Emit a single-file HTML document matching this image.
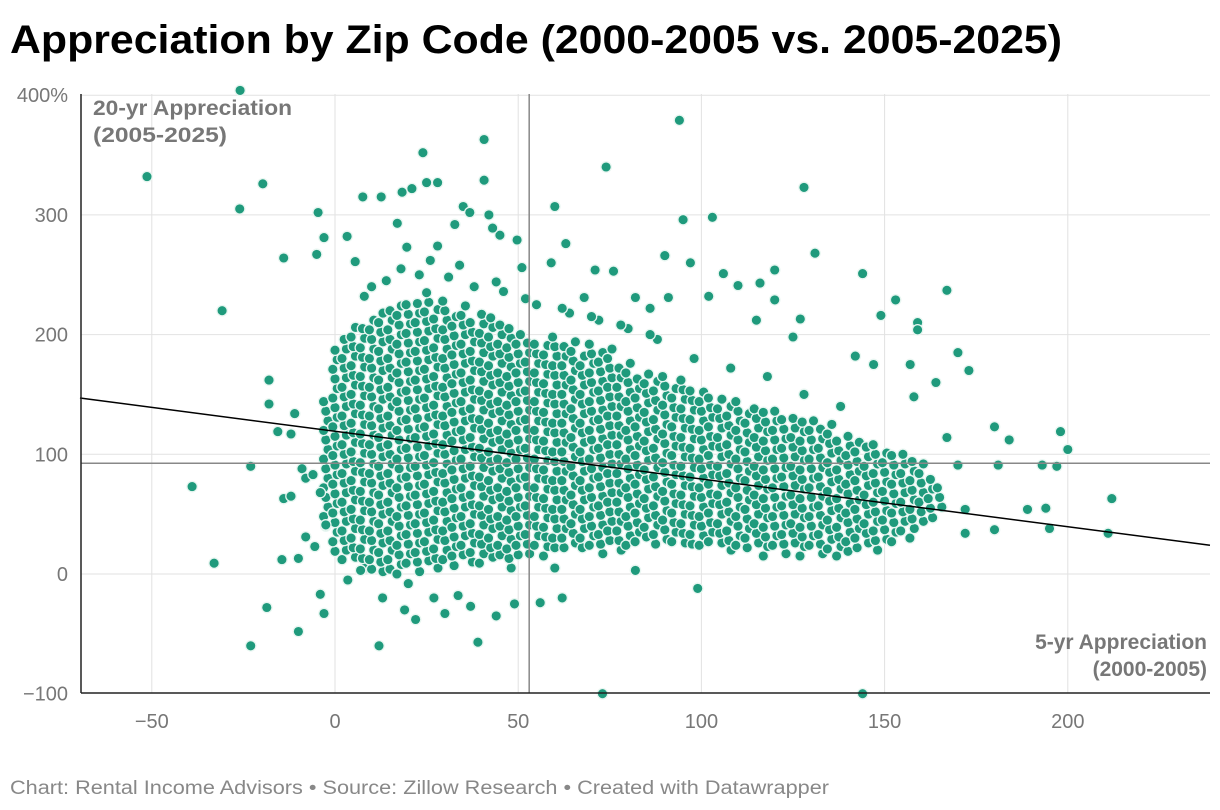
<!DOCTYPE html>
<html><head><meta charset="utf-8">
<style>
html,body{margin:0;padding:0;background:#fff;}
body{width:1220px;height:810px;overflow:hidden;font-family:"Liberation Sans",sans-serif;}
</style></head>
<body>
<svg id="chart" width="1220" height="810" xmlns="http://www.w3.org/2000/svg" style="position:absolute;left:0;top:0">
<text x="10" y="53" font-size="40" font-weight="bold" fill="#000" textLength="1052" lengthAdjust="spacingAndGlyphs" font-family="Liberation Sans, sans-serif">Appreciation by Zip Code (2000-2005 vs. 2005-2025)</text>
<g id="grid"></g>
<g id="pts"></g>
<g id="overlay"></g>
<text x="10" y="794" font-size="19" fill="#888" textLength="819" lengthAdjust="spacingAndGlyphs">Chart: Rental Income Advisors • Source: Zillow Research • Created with Datawrapper</text>
</svg>
<script>
const xTicks=[-50,0,50,100,150,200];
const yTicks=[400,300,200,100,0,-100];
const yTickLabels=["400%","300","200","100","0","−100"];
const xTickLabels=["−50","0","50","100","150","200"];
const refX=53, refY=92.5;
const trendStart=[-69.6,147], trendEnd=[238.8,24];
// dense core columns: [x, yLow, yHigh] observed extents of the dense cluster
const coreColumns=[[-2.5,40,150],[0,15,190],[2.5,10,200],[5,8,210],[7.5,5,210],[10,0,215],[12.5,0,225],[15,-2,220],[17.5,0,230],[20,5,228],[22.5,0,232],[25,5,235],[27.5,5,225],[30,8,232],[32.5,5,222],[35,10,228],[37.5,10,215],[40,5,222],[42.5,12,215],[45,10,212],[47.5,5,205],[50,12,205],[52.5,15,200],[55,18,198],[57.5,15,195],[60,18,200],[62.5,20,192],[65,20,195],[67.5,22,188],[70,20,192],[72.5,15,185],[75,22,188],[77.5,20,178],[80,20,180],[82.5,25,170],[85,25,172],[87.5,25,162],[90,25,168],[92.5,25,160],[95,20,162],[97.5,25,155],[100,20,155],[102.5,25,150],[105,20,150],[107.5,20,145],[110,20,148],[112.5,20,140],[115,20,145],[117.5,15,137],[120,20,138],[122.5,15,132],[125,20,135],[127.5,15,128],[130,20,128],[132.5,15,122],[135,15,125],[137.5,15,118],[140,15,118],[142.5,20,112],[145,20,112],[147.5,20,108],[150,25,108],[152.5,25,102],[155,30,100],[157.5,30,98],[160,40,92],[162.5,45,85],[165,50,78]];
const outlierX=[-25.9,-51.3,-19.7,-26,-4.6,-30.8,40.7,40.7,24,94,74,128,60,95,103,63,131,144,167,153,90,97,149,159,159,170,173,142,147,157,164,158,167,184,180,198,200,193,197,212,211,194,189,195,172,172,181,180,170,-39,-33,-23,-18,-18,-14,-5,-15.6,-12,-18.6,-10,-23,-3,-4,-14.5,-10,-8,-11,-14,-12,-9,-8,-6,-4,-5.5,-2.5,-3,73,144,99,12,13,39,49,56,62,22,30,37,44,19,27,33.6,20,82,60,3.5,7,7.6,12.6,17,18.3,21,25,28,35,42,49.7,45,59,51,68,71,76,82,86,91,102,106,110,120,116,120,127,125,115,3.3,5.5,19.6,28,32.7,36.8,43,8,14,23,31,38,46,55,64,72,80,88,10,18,26,34,44,52,62,70,78,86,98,108,118,128,138];
const outlierY=[404,332,326,305,302,220,363,329,352,379,340,323,307,296,298,276,268,251,237,229,266,260,216,210,204,185,170,182,175,175,160,148,114,112,123,119,104,91,90,63,34,55,54,38,34,54,91,37,91,73,9,90,162,142,264,267,119,117,-28,-48,-60,-33,-17,12,13,31,134,63,65,88,80,83,68,23,41,281,-100,-100,-12,-60,-20,-57,-25,-24,-20,-38,-33,-27,-35,-30,-20,-18,-8,3,5,-5,3,315,315,293,319,322,327,327,307,300,279,283,260,256,231,254,253,231,222,231,232,251,241,254,243,229,213,198,212,282,261,273,274,292,302,289,232,245,250,248,240,236,225,218,212,205,196,240,255,262,258,244,230,222,215,208,200,180,172,165,150,140];

const X0=335, XS=3.664, Y0=574, YS=1.197;
const sx=v=>X0+v*XS, sy=v=>Y0-v*YS;
const L=81, R=1210, T=94, B=693;
const NS="http://www.w3.org/2000/svg";
function mk(tag,attrs,parent,txt){const e=document.createElementNS(NS,tag);for(const k in attrs)e.setAttribute(k,attrs[k]);if(txt!==undefined)e.textContent=txt;parent.appendChild(e);return e;}
const grid=document.getElementById('grid'), pts=document.getElementById('pts'), ov=document.getElementById('overlay');
xTicks.forEach((t,i)=>{
  const l=mk('line',{x1:sx(t),x2:sx(t),y1:T,y2:B,stroke:'#e2e2e2','stroke-width':1},grid);
  
  
  const tx=mk('text',{x:sx(t),y:728,'font-size':20,fill:'#777','text-anchor':'middle'},grid,xTickLabels[i]);
  
  
});
yTicks.forEach((t,i)=>{
  if(t!==-100){const l=mk('line',{x1:L,x2:R,y1:sy(t),y2:sy(t),stroke:'#e2e2e2','stroke-width':1},grid);
  
  }
  const tx=mk('text',{x:68,y:sy(t)+7,'font-size':20,fill:'#777','text-anchor':'end'},grid,yTickLabels[i]);
  
  
});
function dot(x,y,name){
  const c=mk('circle',{cx:sx(x).toFixed(1),cy:sy(y).toFixed(1),r:5.2,fill:'#1f9a7c',stroke:'#e8f6f1','stroke-width':1.3},pts);
  
  
}
coreColumns.forEach((col,i)=>{
  const off=[0,4,2,6][i%4];
  for(let y=col[1]+off;y<=col[2];y+=8){dot(col[0]+((Math.round(y)%3)-1)*0.6,y,'zip-point');}
});
outlierX.forEach((x,i)=>dot(x,outlierY[i],'zip-point'));
let e;
e=mk('line',{x1:sx(refX),x2:sx(refX),y1:T,y2:B,stroke:'#888','stroke-width':1.5},ov);


e=mk('line',{x1:L,x2:R,y1:sy(refY),y2:sy(refY),stroke:'#888','stroke-width':1.5},ov);


e=mk('line',{x1:sx(trendStart[0]),y1:sy(trendStart[1]),x2:sx(trendEnd[0]),y2:sy(trendEnd[1]),stroke:'#000','stroke-width':1.5},ov);


e=mk('line',{x1:L,x2:L,y1:T,y2:B,stroke:'#222','stroke-width':1.5},ov);


e=mk('line',{x1:L,x2:R,y1:B,y2:B,stroke:'#222','stroke-width':1.5},ov);


e=mk('text',{x:93,y:115,'font-size':21,'font-weight':'bold',fill:'#777',textLength:199,lengthAdjust:'spacingAndGlyphs'},ov,'20-yr Appreciation');


e=mk('text',{x:93,y:142,'font-size':21,'font-weight':'bold',fill:'#777',textLength:134,lengthAdjust:'spacingAndGlyphs'},ov,'(2005-2025)');


e=mk('text',{x:1207,y:649,'font-size':21,'font-weight':'bold',fill:'#777','text-anchor':'end'},ov,'5-yr Appreciation');


e=mk('text',{x:1207,y:676,'font-size':21,'font-weight':'bold',fill:'#777','text-anchor':'end'},ov,'(2000-2005)');


</script>
</body></html>
